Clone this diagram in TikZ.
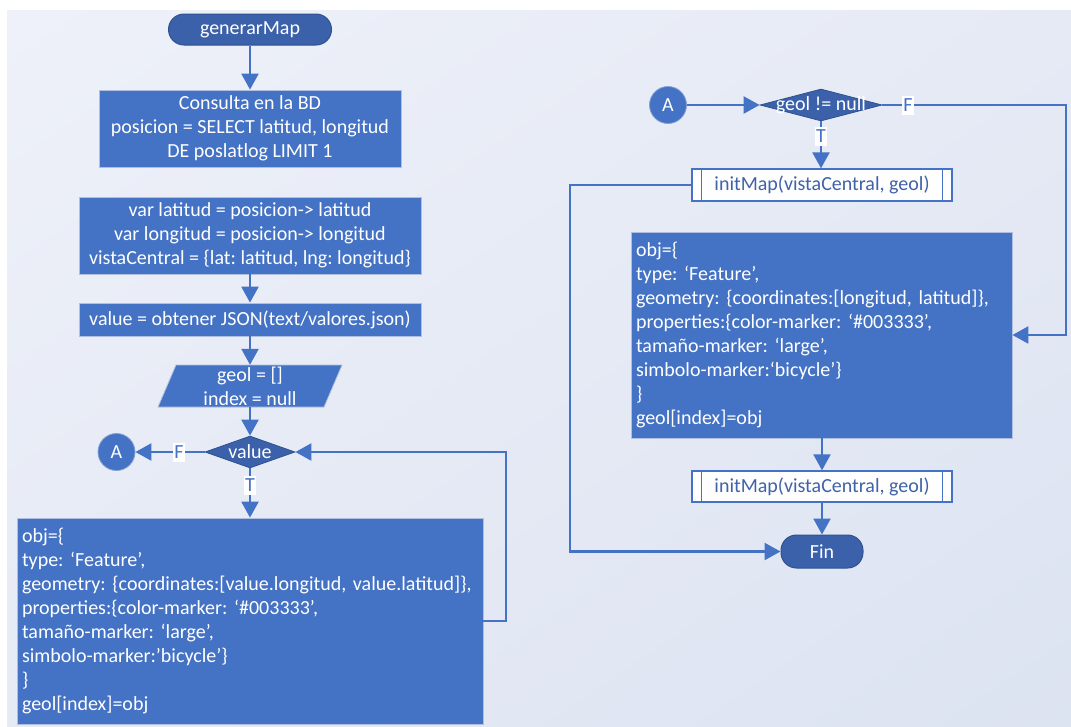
\documentclass[tikz,border=0pt]{standalone}
\usepackage{fontspec}
\setmainfont{Carlito}
\usetikzlibrary{shapes.geometric,arrows.meta,shadings}

\definecolor{boxblue}{HTML}{4472C4}
\definecolor{boxedge}{HTML}{AEBFE0}
\definecolor{darkfill}{HTML}{3B61AA}
\definecolor{darkedge}{HTML}{2F528F}
\definecolor{connblue}{HTML}{4472C4}
\definecolor{subtext}{HTML}{3F62A8}
\definecolor{bgA}{HTML}{EEF1F9}
\definecolor{bgM}{HTML}{E6EAF5}
\definecolor{bgB}{HTML}{DCE3F1}

\tikzset{
  basefont/.style={font=\fontsize{20}{24}\selectfont\frenchspacing},
  procbox/.style={basefont, rectangle, fill=boxblue, draw=boxedge, line width=0.8pt,
    text=white, align=center, inner sep=0pt},
  codebox/.style={basefont, rectangle, fill=boxblue, draw=boxedge, line width=0.8pt,
    text=white, align=left, inner xsep=5pt, inner ysep=0pt},
  termbox/.style={basefont, rectangle, rounded corners=15.5pt, fill=darkfill,
    draw=darkedge, line width=1pt, text=white, inner sep=0pt},
  decbox/.style={basefont, diamond, fill=darkfill, draw=darkedge, line width=0.8pt,
    text=white, inner sep=0pt},
  connector/.style={basefont, circle, fill=boxblue, draw=boxedge!60!boxblue,
    line width=0.8pt, text=white, minimum size=37pt, inner sep=0pt},
  subbox/.style={basefont, rectangle, fill=white!92!bgA, draw=connblue,
    line width=1.4pt, text=subtext, inner sep=0pt},
  subline/.style={draw=connblue, line width=1.4pt},
  iobox/.style={fill=boxblue, draw=boxedge, line width=0.8pt},
  flowlabel/.style={basefont, fill=white, text=connblue, inner xsep=1pt, inner ysep=0pt,
    minimum height=19pt},
  flow/.style={draw=connblue, line width=2.4pt,
    -{Triangle[length=16pt,width=17pt]}},
}

\begin{document}
\begin{tikzpicture}[x=1pt,y=-1pt]
  % page and soft backdrop
  \useasboundingbox (0,0) rectangle (1071,726);
  \fill[white] (0,0) rectangle (1071,726);
  \shade[upper left=bgA, upper right=bgM, lower left=bgM, lower right=bgB]
    (7,10) rectangle (1071,726);

  % ---------- main routine ----------
  \node[termbox, minimum width=163pt, minimum height=31pt] (gen) at (250,29.5) {generarMap};
  \node[procbox, minimum width=302pt, minimum height=77pt] (cons) at (250,128.5)
    {Consulta en la BD\\posicion = SELECT latitud, longitud\\DE poslatlog LIMIT 1};
  \node[procbox, minimum width=342pt, minimum height=77pt] (vars) at (250,235.5)
    {var latitud = posicion-> latitud\\var longitud = posicion-> longitud\\vistaCentral = \{lat: latitud, lng: longitud\}};
  \node[procbox, minimum width=342pt, minimum height=33pt] (json) at (250,319.5)
    {value = obtener JSON(text/valores.json)};

  % input parallelogram
  \filldraw[iobox] (176,365) -- (342,365) -- (324,407) -- (158,407) -- cycle;
  \node[basefont, text=white, align=center, inner sep=0pt, minimum width=160pt,
    minimum height=42pt] (init) at (250,386) {geol = []\\index = null};

  \node[decbox, minimum width=90pt, minimum height=32pt] (dec1) at (250,452)
    {\makebox[0pt]{value}};
  \node[connector] (a1) at (116.5,452) {A};

  \node[codebox, text width=456pt, minimum height=206pt] (obj1) at (250,621)
    {obj=\{\\type: ‘Feature’,\\geometry: \{coordinates:[value.longitud, value.latitud]\},\\properties:\{color-marker: ‘\#003333’,\\tamaño-marker: ‘large’,\\simbolo-marker:’bicycle’\}\\\}\\geol[index]=obj};

  \coordinate (loop1) at (506,452);

  \draw[flow] (gen) -- (cons);
  \draw[flow] (vars) -- (json);
  \draw[flow] (json) -- (init);
  \draw[flow] (init) -- (dec1);
  \draw[flow] (dec1.west) -- (a1);
  \draw[flow] (dec1.south) -- (obj1.north);
  \draw[flow] (obj1.east) -| (loop1) -- (dec1.east);
  \node[flowlabel] at (179,452) {F};
  \node[flowlabel] at (250,485) {T};

  % ---------- connector A ----------
  \node[connector] (a2) at (668,105) {A};
  \node[decbox, minimum width=122pt, minimum height=32pt] (dec2) at (821,105)
    {\makebox[0pt]{geol != null}};

  \node[subbox, minimum width=260pt, minimum height=32pt] (map1) at (822,185)
    {initMap(vistaCentral, geol)};
  \draw[subline] ([xshift=10pt]map1.north west) -- ([xshift=10pt]map1.south west);
  \draw[subline] ([xshift=-10pt]map1.north east) -- ([xshift=-10pt]map1.south east);

  \node[codebox, text width=371pt, minimum height=206pt] (obj2) at (821.5,335)
    {obj=\{\\type: ‘Feature’,\\geometry: \{coordinates:[longitud, latitud]\},\\properties:\{color-marker: ‘\#003333’,\\tamaño-marker: ‘large’,\\simbolo-marker:‘bicycle’\}\\\}\\geol[index]=obj};

  \node[subbox, minimum width=260pt, minimum height=31pt] (map2) at (822,486.5)
    {initMap(vistaCentral, geol)};
  \draw[subline] ([xshift=10pt]map2.north west) -- ([xshift=10pt]map2.south west);
  \draw[subline] ([xshift=-10pt]map2.north east) -- ([xshift=-10pt]map2.south east);

  \node[termbox, minimum width=82pt, minimum height=33pt] (fin) at (822,551.5) {Fin};

  \coordinate (loop2) at (1066,105);
  \coordinate (loop3) at (570,185);

  \draw[flow] (a2) -- (dec2.west);
  \draw[flow] (dec2.south) -- (dec2.south |- map1.north);
  \draw[flow] (dec2.east) -- (loop2) |- (obj2.east);
  \draw[flow] (obj2.south -| map2) -- (map2.north);
  \draw[flow] (map2) -- (fin);
  \draw[flow] (map1.west) -- (loop3) |- (fin.west);
  \node[flowlabel] at (908,105) {F};
  \node[flowlabel] at (821,136) {T};
\end{tikzpicture}
\end{document}
